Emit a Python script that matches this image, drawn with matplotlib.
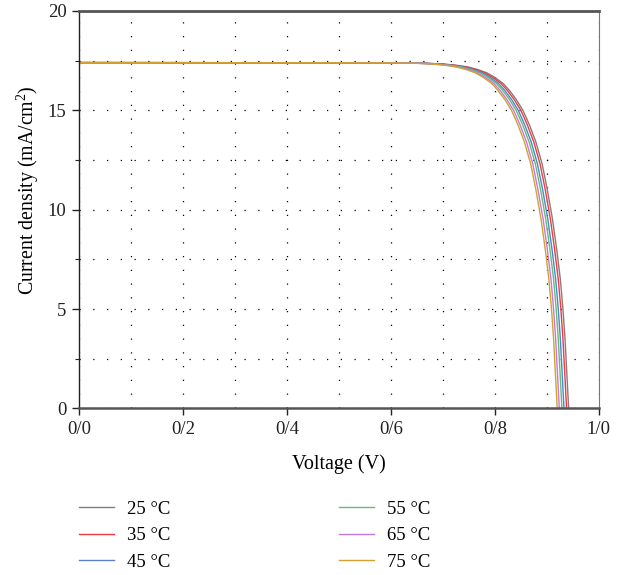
import matplotlib
matplotlib.use('Agg')
import matplotlib.pyplot as plt
from matplotlib.ticker import MultipleLocator

plt.rcParams['font.family'] = ['Liberation Serif', 'DejaVu Serif']
plt.rcParams['mathtext.fontset'] = 'custom'
plt.rcParams['mathtext.rm'] = 'Liberation Serif'
plt.rcParams['mathtext.it'] = 'Liberation Serif:italic'

# Current density levels (mA/cm2) shared by all curves
current = [17.40, 17.39, 17.37, 17.33, 17.27, 17.18, 17.05, 16.88, 16.65, 16.35, 16.00, 15.55,
           15.00, 14.30, 13.40, 12.30, 11.00, 9.50, 8.00, 6.50, 5.00, 3.50, 2.00, 0.00]

# Voltage (V) reached at each current level, one list per temperature
v_25 = [0.000, 0.620, 0.665, 0.700, 0.725, 0.748, 0.767, 0.785, 0.800, 0.816, 0.828, 0.841,
        0.854, 0.866, 0.879, 0.891, 0.901, 0.911, 0.919, 0.926, 0.931, 0.935, 0.938, 0.942]
v_35 = [0.000, 0.616, 0.661, 0.696, 0.721, 0.744, 0.763, 0.781, 0.796, 0.812, 0.824, 0.837,
        0.850, 0.862, 0.875, 0.887, 0.897, 0.907, 0.915, 0.922, 0.927, 0.931, 0.934, 0.938]
v_45 = [0.000, 0.611, 0.656, 0.691, 0.716, 0.739, 0.758, 0.776, 0.791, 0.807, 0.819, 0.832,
        0.845, 0.857, 0.870, 0.882, 0.892, 0.902, 0.910, 0.917, 0.922, 0.926, 0.929, 0.933]
v_55 = [0.000, 0.607, 0.652, 0.687, 0.712, 0.735, 0.754, 0.772, 0.787, 0.803, 0.815, 0.828,
        0.841, 0.853, 0.866, 0.878, 0.888, 0.898, 0.906, 0.913, 0.918, 0.922, 0.925, 0.929]
v_65 = [0.000, 0.602, 0.647, 0.682, 0.707, 0.730, 0.749, 0.767, 0.782, 0.798, 0.810, 0.823,
        0.836, 0.848, 0.861, 0.873, 0.883, 0.893, 0.901, 0.908, 0.913, 0.917, 0.920, 0.924]
v_75 = [0.000, 0.598, 0.643, 0.678, 0.703, 0.726, 0.745, 0.763, 0.778, 0.794, 0.806, 0.819,
        0.832, 0.844, 0.857, 0.869, 0.879, 0.889, 0.897, 0.904, 0.909, 0.913, 0.916, 0.920]

labels = ['25 °C', '35 °C', '45 °C', '55 °C', '65 °C', '75 °C']
colors = ['#7f7f7f', '#ee3b3b', '#5b80c8', '#5cc07a', '#c07ae0', '#d4a030']
x_ticks = [0.0, 0.2, 0.4, 0.6, 0.8, 1.0]
x_ticklabels = ['0/0', '0/2', '0/4', '0/6', '0/8', '1/0']
y_ticks = [0, 5, 10, 15, 20]

fig = plt.figure(figsize=(6.29, 5.75), dpi=100)
ax = fig.add_axes([0.1256, 0.2897, 0.8264, 0.6913])

for v, lab, c in zip([v_25, v_35, v_45, v_55, v_65, v_75], labels, colors):
    ax.plot(v, current, color=c, lw=1.0, label=lab)

ax.set_xlim(0, 1.0)
ax.set_ylim(0, 20)
ax.set_xticks(x_ticks)
ax.set_xticklabels(x_ticklabels)
ax.set_yticks(y_ticks)
ax.xaxis.set_minor_locator(MultipleLocator(0.1))
ax.yaxis.set_minor_locator(MultipleLocator(2.5))
ax.tick_params(which='major', direction='out', length=5, width=1, labelsize=13.5,
               colors='#222222', pad=4)
ax.tick_params(which='minor', direction='out', length=3, width=0.8, colors='#222222')
ax.tick_params(axis='x', which='minor', length=0)

ax.grid(which='both', color='black', linestyle=(0, (1, 10)), linewidth=0.9)

ax.spines['top'].set_linewidth(2.0)
ax.spines['top'].set_color('#555555')
ax.spines['bottom'].set_linewidth(1.8)
ax.spines['bottom'].set_color('#555555')
ax.spines['left'].set_linewidth(1.0)
ax.spines['left'].set_color('#222222')
ax.spines['right'].set_linewidth(0.8)
ax.spines['right'].set_color('#777777')

ax.set_xlabel('Voltage (V)', fontsize=14.5, labelpad=12)
ax.set_ylabel('Current density (mA/cm$^2$)', fontsize=14.3)
ax.yaxis.set_label_coords(-0.074, 0.55)

ax.legend(loc='upper left', bbox_to_anchor=(-0.015, -0.213), ncol=2, frameon=False,
          fontsize=13.5, handlelength=1.87, handletextpad=0.7, columnspacing=9.0,
          labelspacing=0.5, borderaxespad=0)

fig.savefig('out.png', dpi=100)
